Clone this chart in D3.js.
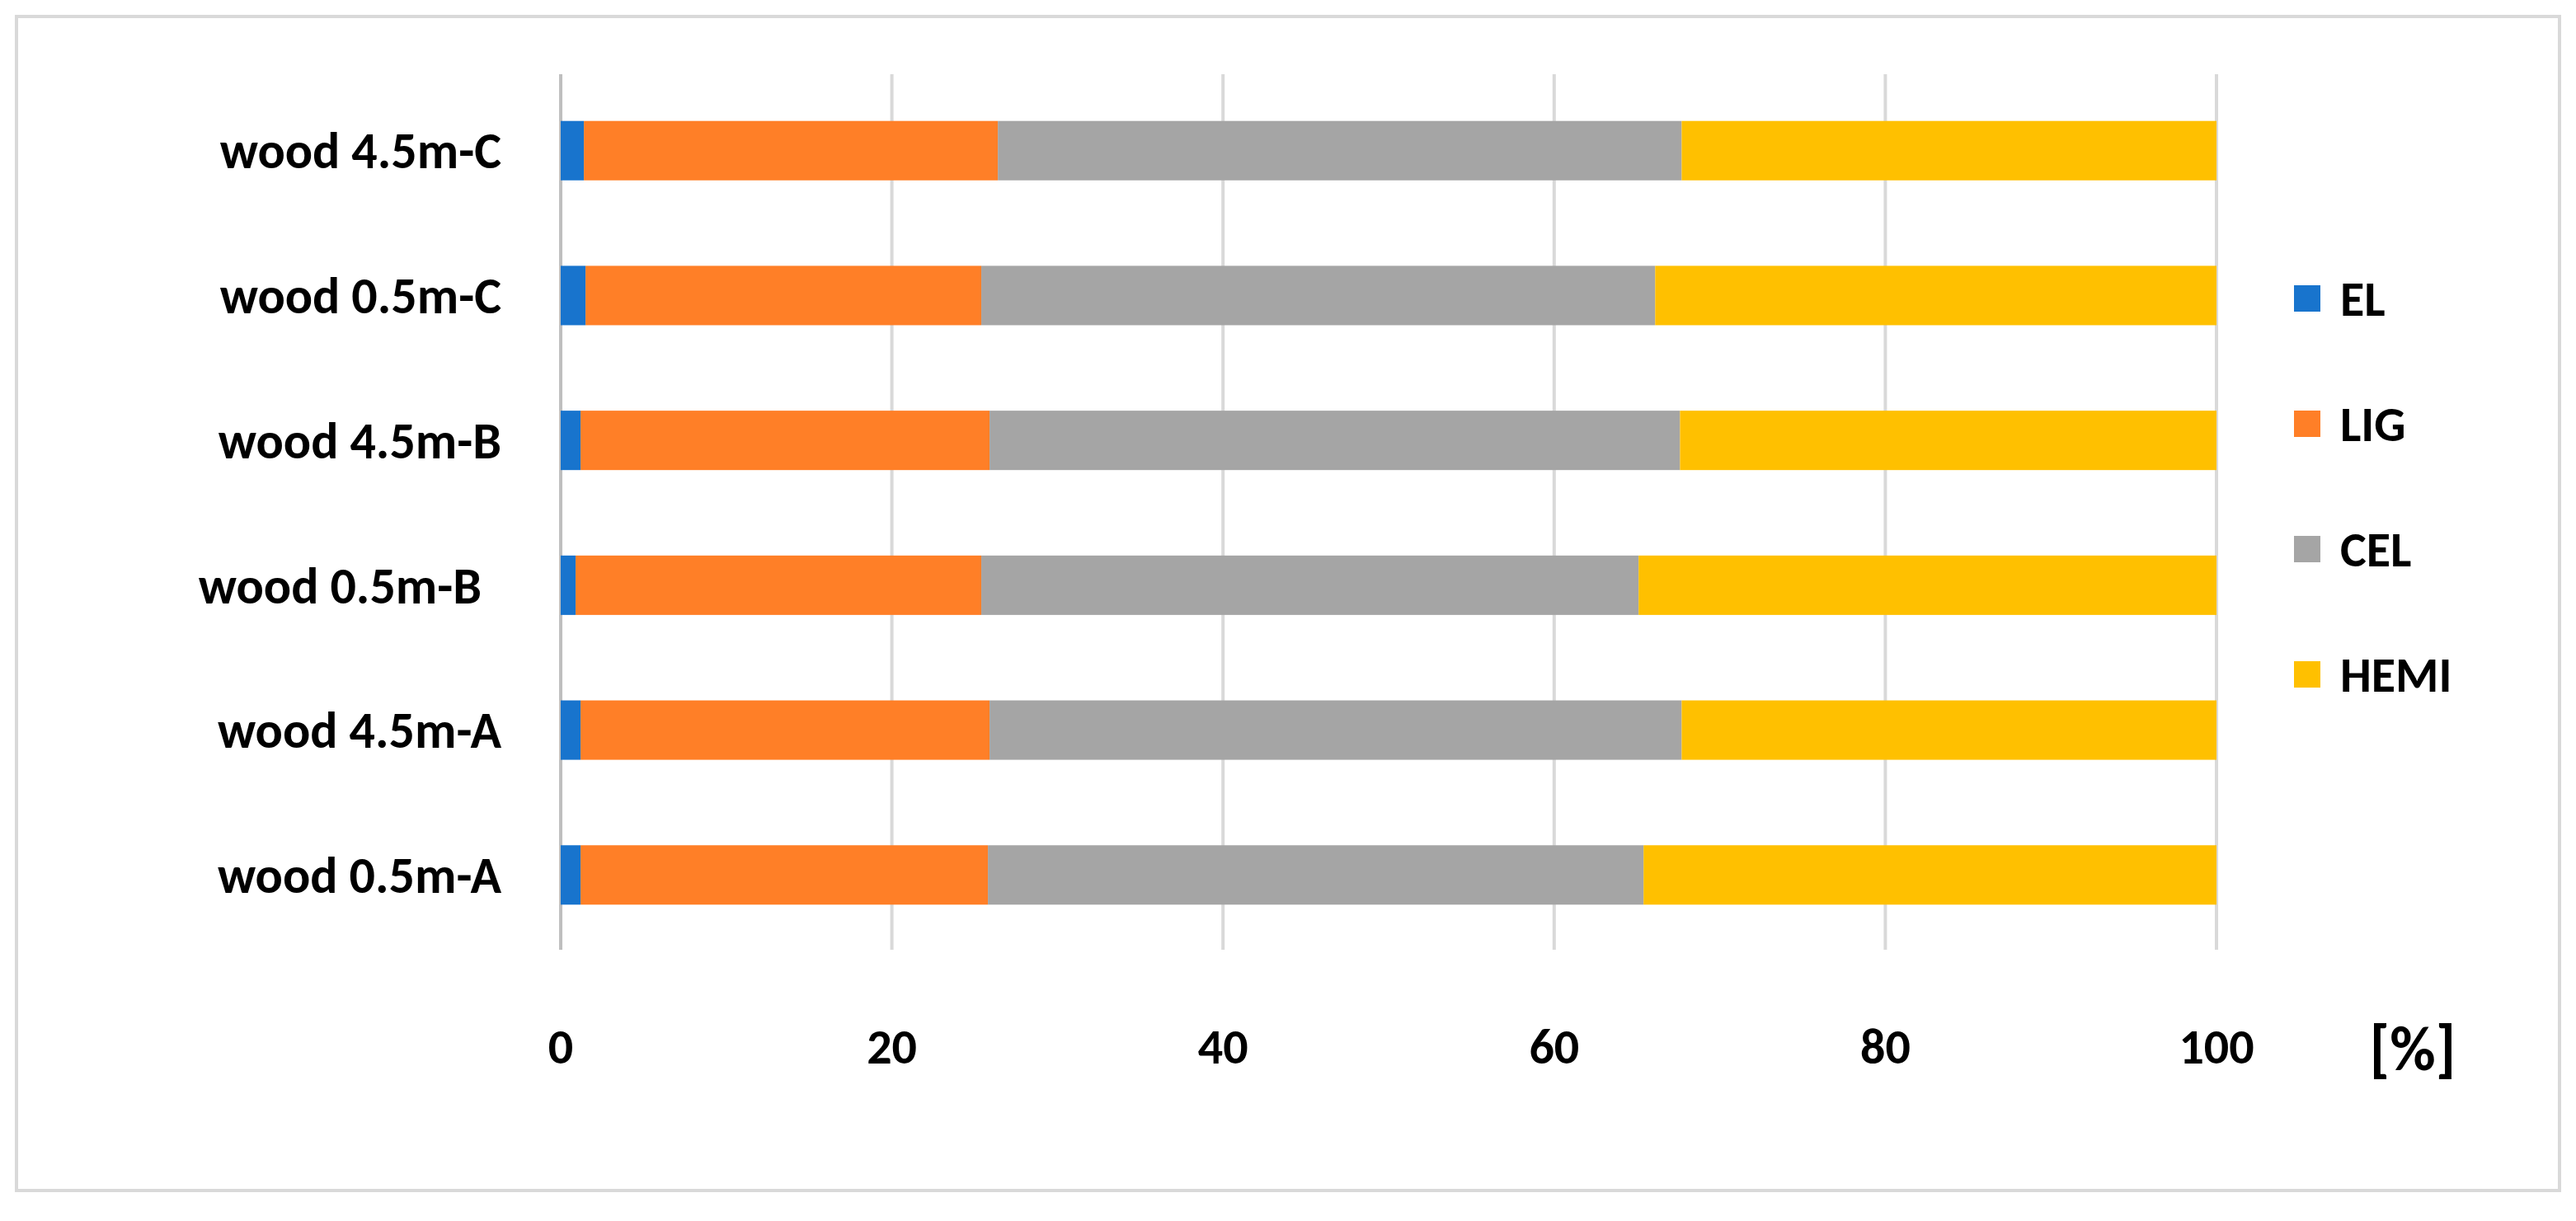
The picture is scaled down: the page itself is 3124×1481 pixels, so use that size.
<!DOCTYPE html>
<html><head><meta charset="utf-8">
<script src="https://cdn.jsdelivr.net/npm/d3@7"></script>
<style>body{margin:0;background:#fff}</style>
</head><body>
<svg id="chart" width="3124" height="1481"></svg>
<script>
// rows drawn bottom to top in the picture
const categories = ["wood 0.5m-A", "wood 4.5m-A", "wood 0.5m-B", "wood 4.5m-B", "wood 0.5m-C", "wood 4.5m-C"]
const seriesNames = ["EL", "LIG", "CEL", "HEMI"]
const EL = [1.2, 1.2, 0.9, 1.2, 1.5, 1.4]
const LIG = [24.6, 24.7, 24.5, 24.7, 23.9, 25.0]
const CEL = [39.6, 41.8, 39.7, 41.7, 40.7, 41.3]
const HEMI = [34.6, 32.3, 34.9, 32.4, 33.9, 32.3]
const ticks = [0, 20, 40, 60, 80, 100]
const colors = ["#1874CD", "#FF7F27", "#A5A5A5", "#FFC000"]

const font = "Carlito, 'Open Sans', 'Liberation Sans', sans-serif"
const svg = d3.select("#chart")

svg.append("rect").attr("x", 20).attr("y", 20).attr("width", 3084).attr("height", 1424)
  .attr("fill", "#fff").attr("stroke", "#d9d9d9").attr("stroke-width", 4)

const x = d3.scaleLinear().domain([0, 100]).range([680, 2688])
const y = d3.scaleBand().domain(categories.slice().reverse()).range([94, 1150]).paddingInner(0.59).paddingOuter(0.3)

// gridlines
svg.append("g").selectAll("line").data(ticks).enter().append("line")
  .attr("x1", d => x(d)).attr("x2", d => x(d)).attr("y1", 90).attr("y2", 1152)
  .attr("stroke", d => d === 0 ? "#bfbfbf" : "#d9d9d9").attr("stroke-width", 4)

const data = categories.map((c, i) => ({ cat: c, EL: EL[i], LIG: LIG[i], CEL: CEL[i], HEMI: HEMI[i] }))
const stacked = d3.stack().keys(seriesNames)(data)

svg.append("g").selectAll("g").data(stacked).enter().append("g")
  .attr("fill", (d, i) => colors[i])
  .selectAll("rect").data(d => d).enter().append("rect")
  .attr("x", d => x(d[0])).attr("width", d => x(d[1]) - x(d[0]))
  .attr("y", d => y(d.data.cat)).attr("height", y.bandwidth())

// category labels
svg.append("g").selectAll("text").data(categories).enter().append("text")
  .attr("x", d => d === "wood 0.5m-B" ? 584 : 608)
  .attr("y", d => y(d) + y.bandwidth() / 2)
  .attr("dy", "0.35em").attr("text-anchor", "end")
  .attr("font-family", font).attr("font-weight", "bold").attr("font-size", 62)
  .text(d => d)

// x tick labels
svg.append("g").selectAll("text").data(ticks).enter().append("text")
  .attr("x", d => x(d)).attr("y", 1290).attr("text-anchor", "middle")
  .attr("font-family", font).attr("font-weight", "bold").attr("font-size", 60)
  .text(d => d)

svg.append("text").attr("x", 2926).attr("y", 1298).attr("text-anchor", "middle")
  .attr("font-family", font).attr("font-weight", "bold").attr("font-size", 76).text("[%]")

// legend
const leg = svg.append("g").selectAll("g").data(seriesNames).enter().append("g")
  .attr("transform", (d, i) => "translate(2782," + (362 + i * 152) + ")")
leg.append("rect").attr("x", 0).attr("y", -16).attr("width", 32).attr("height", 32)
  .attr("fill", (d, i) => colors[i])
leg.append("text").attr("x", 56).attr("dy", "0.35em")
  .attr("font-family", font).attr("font-weight", "bold").attr("font-size", 60).text(d => d)
</script>
</body></html>
